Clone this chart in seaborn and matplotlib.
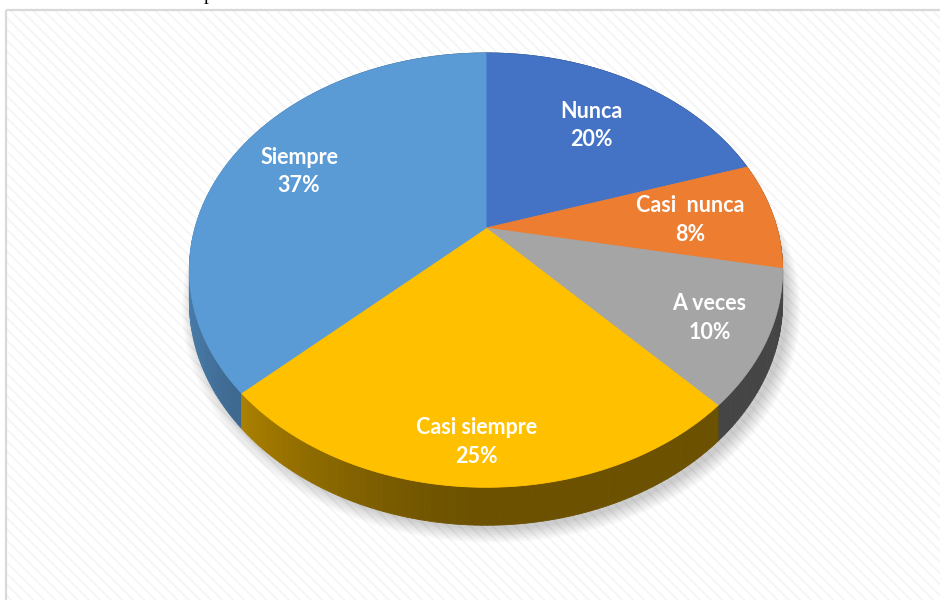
import numpy as np
import matplotlib
matplotlib.use('Agg')
import matplotlib.pyplot as plt
import seaborn as sns
from matplotlib.transforms import Transform
from matplotlib.path import Path
from matplotlib.patches import Rectangle
from matplotlib.colors import to_rgb

# ---------------- data ----------------
categories = ['Nunca', 'Casi  nunca', 'A veces', 'Casi siempre', 'Siempre']
percentages = [20, 8, 10, 25, 37]
slice_colors = ['#4472C4', '#ED7D31', '#A5A5A5', '#FFC000', '#5B9BD5']

# ---------------- style ----------------
sns.set_theme(style='white')
plt.rcParams['font.family'] = ['Lato', 'DejaVu Sans']
plt.rcParams['hatch.linewidth'] = 1.3

# perspective geometry of the tilted disk (pixel space)
CX, CY, RX, RY, K, DEPTH = 486.0, 228.0, 291.0, 209.0, 0.194, 30.6
label_radius = [0.68, 0.71, 0.81, 0.85, 0.74]


def project(x, y, dz=0.0, dx=0.0):
    x = np.asarray(x, float)
    y = np.asarray(y, float)
    w = 1 + K * y
    return CX + RX * x / w + dx / w, CY - RY * y / w + dz / w


class Perspective(Transform):
    input_dims = output_dims = 2

    def __init__(self, dz=0.0, dx=0.0):
        super().__init__()
        self.dz = dz
        self.dx = dx

    def transform_non_affine(self, values):
        v = np.asarray(values, float).reshape(-1, 2)
        px, py = project(v[:, 0], v[:, 1], self.dz, self.dx)
        return np.column_stack([px, py])

    def transform_path_non_affine(self, path):
        pts = []
        for seg, code in path.iter_bezier():
            if code == Path.MOVETO:
                pts.append(seg.control_points[0])
                continue
            n = 1 if code in (Path.LINETO, Path.CLOSEPOLY) else 40
            pts.extend(seg(np.linspace(0, 1, n + 1)[1:]))
        return Path(self.transform_non_affine(np.array(pts)))


fig = plt.figure(figsize=(9.4, 6.0), dpi=100)
fig.patch.set_facecolor('white')
ax = fig.add_axes([0, 0, 1, 1])

# background panel with faint diagonal texture and light border
ax.add_patch(Rectangle((5.5, 9.5), 940, 600, facecolor='white', edgecolor='#F5F5F5',
                       hatch='\\\\\\', linewidth=0, zorder=0))
ax.add_patch(Rectangle((5.5, 9.5), 940, 600, fill=False, edgecolor='#D9D9D9',
                       linewidth=1.6, zorder=0.5))

# soft shadow under the pie
for i in range(10):
    sw, _ = ax.pie([1], radius=1.0 + 0.0045 * i, colors=['black'],
                   wedgeprops=dict(alpha=0.018, linewidth=0))
    for s in sw:
        s.set_transform(Perspective(DEPTH + 3, 5) + ax.transData)

# side walls (shaded strips), drawn back to front
cum = np.concatenate([[0], np.cumsum(percentages)]) / sum(percentages) * 360.0
strips = []
for i, (a0, a1) in enumerate(zip(cum[:-1], cum[1:])):
    base = np.array(to_rgb(slice_colors[i]))
    nseg = max(2, int(np.ceil((a1 - a0) / 1.0)))
    th = np.radians(np.linspace(a0, a1, nseg + 1))
    for t0, t1 in zip(th[:-1], th[1:]):
        xs = np.sin([t0, t1])
        ys = np.cos([t0, t1])
        tx, ty = project(xs, ys)
        bx, by = project(xs, ys, DEPTH)
        mid = 0.5 * (t0 + t1)
        shade = 0.42 + 0.4 * max(0.0, -np.sin(mid)) ** 1.5
        col = tuple(np.clip(base * shade, 0, 1))
        strips.append((np.cos(mid), [tx[0], tx[1], bx[1], bx[0]],
                       [ty[0], ty[1], by[1], by[0]], col))
strips.sort(key=lambda s: -s[0])
for _, px, py, c in strips:
    ax.fill(px, py, facecolor=c, edgecolor=c, linewidth=0.6, zorder=1)

# top surface of the pie
wedges, _ = ax.pie(percentages, colors=slice_colors, startangle=90, counterclock=False,
                   wedgeprops=dict(linewidth=0.6))
for w, c in zip(wedges, slice_colors):
    w.set_edgecolor(c)
    w.set_zorder(2)
    w.set_transform(Perspective() + ax.transData)

# data labels
mids = np.radians(0.5 * (cum[:-1] + cum[1:]))
for cat, p, m, r in zip(categories, percentages, mids, label_radius):
    lx, ly = project(r * np.sin(m), r * np.cos(m))
    ax.text(float(lx), float(ly) + 1.5, f'{cat}\n{p}%', ha='center', va='center', color='white',
            fontsize=15.5, fontweight='bold', linespacing=1.45, zorder=5)

# cut-off letter from surrounding document
ax.text(204, 0.5, 'p', family='Liberation Serif', fontsize=14, color='black',
        ha='left', va='baseline', zorder=5)

ax.set_xlim(0, 940)
ax.set_ylim(600, 0)
ax.set_aspect('auto')
ax.axis('off')

fig.savefig('out.png', dpi=100, facecolor='white')
